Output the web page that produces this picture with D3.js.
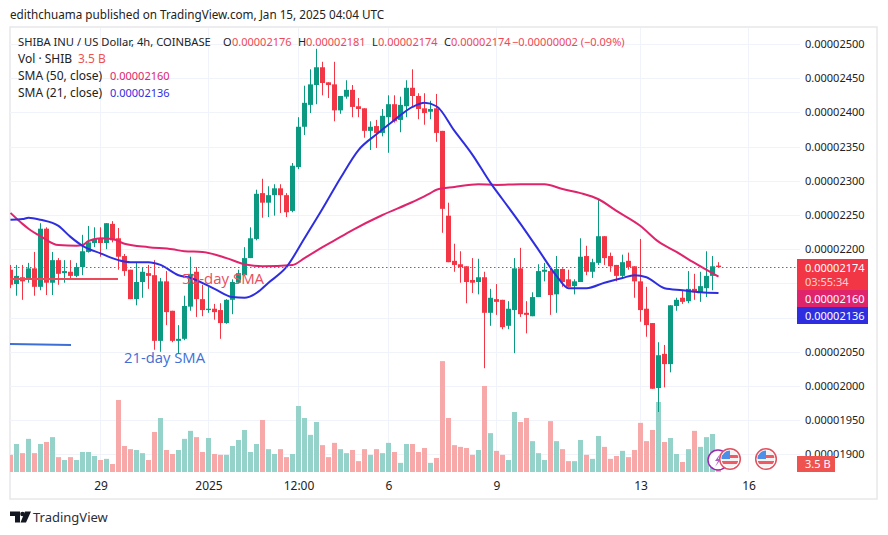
<!DOCTYPE html>
<html><head><meta charset="utf-8">
<style>html,body{margin:0;padding:0;background:#fff}svg{display:block}text{font-family:"Noto Sans",sans-serif}</style>
<script src="https://cdn.jsdelivr.net/npm/d3@7/dist/d3.min.js"></script>
</head><body><svg id="c" width="888" height="535"></svg>
<script>
// Prices are in units of 0.00000001 USD
const opens=[2170,2149,2159,2155,2172,2145,2230,2151,2184,2165,2167,2161,2174,2196,2209,2215,2209,2237,2216,2190,2170,2127,2152,2165,2162,2066,2153,2110,2066,2069,2116,2167,2127,2111,2113,2111,2092,2126,2151,2162,2187,2215,2282,2268,2279,2289,2279,2256,2320,2379,2411,2440,2466,2444,2441,2403,2423,2433,2409,2406,2373,2380,2370,2393,2412,2389,2409,2436,2424,2406,2401,2406,2373,2249,2183,2178,2175,2155,2152,2159,2107,2127,2126,2088,2111,2172,2107,2102,2130,2167,2168,2134,2171,2156,2146,2152,2190,2167,2180,2219,2190,2177,2161,2183,2175,2153,2113,2092,1997,2047,2032,2117,2129,2124,2142,2137,2143,2161,2176];
const closes=[2148,2161,2153,2172,2145,2230,2151,2184,2164,2168,2161,2174,2197,2210,2215,2209,2238,2213,2189,2168,2127,2152,2167,2161,2066,2153,2108,2066,2069,2117,2164,2127,2111,2113,2108,2092,2126,2152,2165,2187,2216,2281,2268,2279,2289,2279,2254,2322,2379,2414,2441,2466,2443,2440,2403,2424,2433,2408,2405,2373,2379,2370,2395,2412,2387,2411,2436,2424,2405,2399,2405,2370,2259,2181,2177,2174,2152,2151,2159,2107,2129,2123,2086,2113,2172,2105,2104,2130,2168,2170,2133,2171,2152,2145,2153,2189,2167,2181,2219,2187,2175,2161,2181,2174,2153,2111,2089,1996,2045,2032,2118,2126,2123,2142,2137,2146,2161,2175,2174];
const highs=[2177,2177,2177,2180,2196,2238,2232,2196,2187,2184,2184,2180,2221,2234,2232,2232,2238,2241,2231,2193,2170,2180,2174,2177,2184,2158,2168,2110,2089,2132,2189,2174,2148,2145,2120,2121,2127,2156,2170,2203,2232,2287,2303,2292,2295,2295,2282,2326,2393,2439,2463,2493,2474,2444,2474,2424,2447,2440,2421,2406,2387,2389,2405,2425,2425,2423,2447,2463,2428,2428,2417,2427,2373,2268,2208,2197,2175,2187,2186,2167,2142,2149,2126,2124,2187,2202,2124,2137,2178,2180,2172,2190,2172,2170,2156,2216,2205,2186,2272,2219,2195,2177,2192,2195,2175,2215,2145,2092,2064,2060,2118,2129,2140,2168,2164,2167,2197,2190,2181];
const lows=[2143,2132,2126,2151,2132,2140,2133,2133,2148,2151,2155,2159,2162,2195,2203,2189,2200,2210,2170,2161,2127,2118,2129,2142,2053,2050,2089,2064,2048,2067,2110,2101,2102,2107,2097,2069,2091,2105,2151,2161,2187,2213,2246,2247,2249,2253,2247,2254,2317,2367,2399,2412,2425,2421,2387,2398,2420,2393,2393,2363,2345,2348,2365,2341,2385,2371,2393,2409,2390,2382,2390,2357,2224,2181,2167,2151,2121,2136,2134,2026,2088,2104,2083,2083,2048,2101,2077,2102,2130,2153,2104,2107,2145,2145,2134,2152,2162,2158,2177,2177,2167,2153,2158,2170,2129,2094,2072,1996,1962,1998,2020,2110,2120,2121,2126,2123,2130,2140,2174];
// Volume in billions of SHIB
const volumes=[30,49,33,58,33,49,52.5,61,26,21,26,21,35,35,28,21,23,14,126,45.5,40,38.5,33,21,70,94.5,38.5,31.5,38.5,58,72,61,35,59.5,31.5,30,30,45.5,56,73.5,35,49,91,40,31.5,40,26,31.5,115.5,94.5,65,87.5,47,26,51,40,33,38.5,19,40,30,40,33,51,35,16,49,49,35,42,16,24.5,194,94.5,47,44,42,30,38.5,150.5,68,37,30,21,105,87.5,94.5,54,33,21,89,54,40,19,19,56,30,23,63,44,23,28,37,26,38.5,86,54,73.5,122.5,52.5,59.5,31.5,17.5,40,72,44,61,66.5,3.5];
const sma50Index=[0,2,3,5,8,11,12,13,15,17,19,23,27,29,32,36,39,42,47,49,52,54,57,62,67,70,71,74,78,81,85,89,92,95,98,101,105,108,111,114,118];
const sma50Values=[2253,2237,2230,2219,2206,2205,2206,2212,2216,2215,2208,2203,2200,2197,2196,2187,2178,2175,2177,2187,2203,2213,2228,2250,2269,2282,2287,2291,2295,2294,2295,2295,2288,2282,2273,2256,2234,2211,2196,2180,2160];
const sma21Index=[0,2,3,5,8,10,12,15,18,20,23,25,28,30,34,37,39,41,43,46,49,52,55,58,61,64,67,69,71,74,77,80,82,85,88,91,93,96,99,102,104,106,109,112,115,118];
const sma21Values=[2243,2244,2246,2243,2234,2218,2205,2194,2184,2181,2181,2177,2162,2158,2142,2130,2129,2136,2151,2174,2216,2259,2304,2345,2368,2389,2408,2414,2409,2373,2338,2297,2273,2237,2199,2161,2143,2143,2151,2158,2162,2159,2143,2140,2137,2136];
const priceTicks=[2500,2450,2400,2350,2300,2250,2200,2150,2100,2050,2000,1950,1900];
const priceLabels=[2500,2450,2400,2350,2300,2250,2200,2050,2000,1950,1900];
const timeTickIndex=[15,33,48,63,81,105,123];
const timeTickLabels=["29","2025","12:00","6","9","13","16"];
const lastPrice=2174, sma50Last=2160, sma21Last=2136;

const UP="#0b9981",DOWN="#f23645",UPV="#95d3ca",DOWNV="#f6a9a8",SMA50="#e0246c",SMA21="#2e2ee0",GRID="#f0f3fa",INK="#222";
const svg=d3.select("#c");
const L=10,R=800,T=28,B=472;
const x=d3.scaleLinear().domain([0,118]).range([10.5,718.5]);
const y=d3.scaleLinear().domain([1900,2500]).range([454.4,44]);
const v=d3.scaleLinear().domain([0,200]).range([472,357.7]);
const fmt=p=>(p*1e-8).toFixed(8);
const defs=svg.append("defs");
defs.append("clipPath").attr("id","plot").append("rect").attr("x",L).attr("y",T).attr("width",R-L-3).attr("height",B-T);

// frame
svg.append("rect").attr("x",10).attr("y",27).attr("width",867).attr("height",472).attr("fill","#fff").attr("stroke","#e8e8ea").attr("stroke-width",1.5);

// grid
const grid=svg.append("g");
grid.selectAll(".h").data(priceTicks).join("line").attr("x1",L).attr("x2",R).attr("y1",d=>Math.round(y(d))+.5).attr("y2",d=>Math.round(y(d))+.5).attr("stroke",GRID);
grid.selectAll(".v").data(timeTickIndex).join("line").attr("x1",d=>x(d)).attr("x2",d=>x(d)).attr("y1",T).attr("y2",B).attr("stroke",GRID);

// price axis
const ya=svg.append("g").attr("transform","translate(798,0)").call(d3.axisRight(y).tickValues(priceLabels).tickSize(0).tickPadding(7).tickFormat(fmt));
ya.select(".domain").remove();
ya.selectAll("text").attr("font-size",11).attr("fill",INK).style("font-family",'"Noto Sans",sans-serif');
// time axis
const xa=svg.append("g").attr("transform","translate(0,472)").call(d3.axisBottom(x).tickValues(timeTickIndex).tickSize(0).tickPadding(9).tickFormat((d,i)=>timeTickLabels[i]));
xa.select(".domain").remove();
xa.selectAll("text").attr("font-size",12).attr("fill",INK).style("font-family",'"Noto Sans",sans-serif');

const plot=svg.append("g").attr("clip-path","url(#plot)");
const idx=d3.range(opens.length);
// volume
plot.selectAll(".vol").data(idx).join("rect").attr("x",i=>x(i)-2.5).attr("width",5).attr("y",i=>v(volumes[i])).attr("height",i=>v(0)-v(volumes[i])).attr("fill",i=>closes[i]>=opens[i]?UPV:DOWNV);
// annotations
svg.append("line").attr("x1",10).attr("x2",118).attr("y1",279).attr("y2",279).attr("stroke","#ea4a5a").attr("stroke-width",2);
svg.append("line").attr("x1",10).attr("x2",71).attr("y1",344).attr("y2",345).attr("stroke","#3d6fd6").attr("stroke-width",2);
svg.append("text").attr("x",182).attr("y",284).attr("font-size",15).attr("fill","#e8505f").style("font-family",'"Open Sans",sans-serif').text("50-day SMA");
svg.append("text").attr("x",124).attr("y",363).attr("font-size",14.8).attr("fill","#3d6fd6").style("font-family",'"Open Sans",sans-serif').text("21-day SMA");
// last price line
svg.append("line").attr("x1",L).attr("x2",797).attr("y1",Math.round(y(lastPrice))+.5).attr("y2",Math.round(y(lastPrice))+.5).attr("stroke",DOWN).attr("stroke-dasharray","1.5 2.5");
// candles
plot.selectAll(".wick").data(idx).join("line").attr("x1",i=>x(i)).attr("x2",i=>x(i)).attr("y1",i=>y(highs[i])).attr("y2",i=>y(lows[i])).attr("stroke",i=>closes[i]>=opens[i]?UP:DOWN);
plot.selectAll(".body").data(idx).join("rect").attr("x",i=>x(i)-2.5).attr("width",5).attr("y",i=>y(Math.max(opens[i],closes[i]))).attr("height",i=>Math.max(1,Math.abs(y(opens[i])-y(closes[i])))).attr("fill",i=>closes[i]>=opens[i]?UP:DOWN);
// SMA
const line=d3.line().x(d=>x(d[0])).y(d=>y(d[1])).curve(d3.curveMonotoneX);
plot.append("path").attr("d",line(d3.zip(sma50Index,sma50Values))).attr("fill","none").attr("stroke",SMA50).attr("stroke-width",2);
plot.append("path").attr("d",line(d3.zip(sma21Index,sma21Values))).attr("fill","none").attr("stroke",SMA21).attr("stroke-width",2);

// title
svg.append("text").attr("x",10).attr("y",19).attr("font-size",11.7).attr("fill",INK).text("edithchuama published on TradingView.com, Jan 15, 2025 04:04 UTC");
// legend
const lg=svg.append("g");
const row=(yy,parts)=>parts.forEach(p=>lg.append("text").attr("x",p[0]).attr("y",yy).attr("font-size",p[3]||11).attr("fill",p[2]||INK).text(p[1]));
const RD="#ef4754";
row(46,[[18,"SHIBA INU / US Dollar, 4h, COINBASE",INK,11.2],[223,"O"],[232,fmt(2176),RD],[298,"H"],[306,fmt(2181),RD],[372,"L"],[378,fmt(2174),RD],[444,"C"],[451,fmt(2174),RD],[512,"\u22120.00000002 (\u22120.09%)",RD]]);
row(63,[[18,"Vol \u00b7 SHIB",INK,12],[78,"3.5 B","#ef5350",12]]);
row(80,[[18,"SMA (50, close)",INK,12],[110,fmt(sma50Last),SMA50]]);
row(97,[[18,"SMA (21, close)",INK,12],[110,fmt(sma21Last),SMA21]]);

// tags
const tag=(yy,h,fill,ts,w)=>{svg.append("rect").attr("x",797).attr("y",yy).attr("width",w||71).attr("height",h).attr("fill",fill);
 ts.forEach(t=>svg.append("text").attr("x",805).attr("y",t[1]).attr("font-size",11).attr("fill",t[2]||"#fff").text(t[0]));};
tag(259,31,DOWN,[[fmt(lastPrice),272],["03:55:34",286,"#fcd5d8"]]);
tag(290,17,SMA50,[[fmt(sma50Last),303]]);
tag(307,17,SMA21,[[fmt(sma21Last),320]]);
tag(456,16,"#ef5350",[["3.5 B",468]],38);

// event icons
const purple=svg.append("g").attr("transform","translate(718,460)");
purple.append("circle").attr("r",10).attr("fill","#fff").attr("stroke","#9c27b0").attr("stroke-width",1.5);
purple.append("path").attr("d","M2,-6 L-3,1 L0,1 L-3,7 L3,-1 L0,-1 Z").attr("fill","#b25cc6");
[730,766].forEach((cx,k)=>{
 const g=svg.append("g").attr("transform",`translate(${cx},459)`);
 defs.append("clipPath").attr("id","fl"+k).append("circle").attr("r",8.5);
 g.append("circle").attr("r",10.3).attr("fill","#fff").attr("stroke","#e2515f").attr("stroke-width",1.5);
 const f=g.append("g").attr("clip-path",`url(#fl${k})`);
 f.append("rect").attr("x",-9).attr("y",-9).attr("width",18).attr("height",18).attr("fill","#f3f3f3");
 f.append("rect").attr("x",-9).attr("y",-4).attr("width",18).attr("height",3).attr("fill","#ef5a64");
 f.append("rect").attr("x",-9).attr("y",2).attr("width",18).attr("height",3).attr("fill","#ef5a64");
 f.append("rect").attr("x",-9).attr("y",-9).attr("width",9).attr("height",9).attr("fill","#4d8fe8");
});

// logo
svg.append("path").attr("d","M10,511.5 H20 V522.5 H15 V516 H10 Z M31,511.5 H25 L20.5,522.5 H26 Z").attr("fill","#131722");
svg.append("circle").attr("cx",22.5).attr("cy",514).attr("r",2.3).attr("fill","#131722");
svg.append("text").attr("x",33).attr("y",522).attr("font-size",13).attr("fill","#2a2e39").text("TradingView");
</script></body></html>
